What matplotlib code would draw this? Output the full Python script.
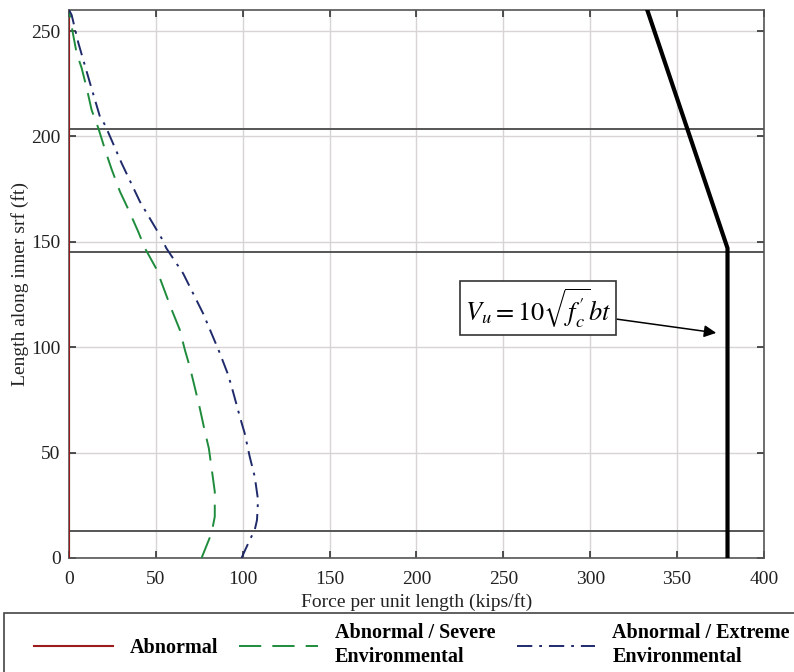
import matplotlib
matplotlib.use("Agg")
import matplotlib.pyplot as plt
from matplotlib.patches import Rectangle

plt.rcParams["font.family"] = ["Liberation Serif", "DejaVu Serif"]
plt.rcParams["mathtext.fontset"] = "stix"
plt.rcParams["lines.scale_dashes"] = False

# Abnormal load: zero along the full height
abn_y = [0, 260]
abn_x = [0, 0]

# Abnormal / Severe Environmental
sev_y = [0, 11.7, 19.6, 31.5, 39.4, 52, 60, 71, 78.9, 90.8, 98.7, 108.2, 118, 137, 147,
         154.9, 165.5, 173.9, 184.5, 192.8, 203.9, 212.6, 222.9, 232.4, 239.5, 250, 257, 260]
sev_x = [76.3, 82.0, 83.9, 83.9, 82.6, 80.5, 78.2, 75.3, 73.0, 69.5, 66.7, 63.8, 59.0, 50.4, 43.7,
         39.8, 34.1, 29.3, 24.5, 21.1, 16.9, 13.0, 10.2, 7.3, 4.4, 2.0, 0.6, 0.0]

# Abnormal / Extreme Environmental
ext_y = [0, 8.5, 13.3, 18, 27.5, 38.6, 48.1, 59.2, 67.1, 78.9, 86.9, 97.2, 106.6, 116, 135, 147,
         151.7, 169.1, 187.3, 205.5, 209.4, 225.3, 244.3, 257.7, 260]
ext_x = [99.3, 104.0, 106.9, 108.2, 108.8, 106.9, 104.0, 101.1, 98.3, 94.4, 91.6, 86.8, 82.0, 77.2, 65.7, 56.0,
         53.3, 40.8, 30.3, 20.7, 17.8, 12.1, 5.4, 1.5, 0.0]

# Shear capacity Vu = 10 sqrt(f'c) b t
cap_y = [0, 147, 262]
cap_x = [379, 379, 332]

# Section boundaries
section_y = [13, 145, 203.5]

x_ticks = [0, 50, 100, 150, 200, 250, 300, 350, 400]
y_ticks = [0, 50, 100, 150, 200, 250]

W, H = 794, 672
fig = plt.figure(figsize=(W / 100, H / 100), dpi=100)
ax = fig.add_axes([69 / W, 1 - 558 / H, (764 - 69) / W, (558 - 10) / H])

ax.grid(True, color="#d8d4d4", linewidth=1.0, zorder=0)
for yv in section_y:
    ax.axhline(yv, color="#555555", linewidth=1.4, zorder=2)

l1, = ax.plot(abn_x, abn_y, color="#9b1c1c", linewidth=1.5, zorder=4)
l2, = ax.plot(sev_x, sev_y, color="#1e8c3c", linewidth=1.4, dashes=(16, 8), zorder=4)
l3, = ax.plot(ext_x, ext_y, color="#1f2a6b", linewidth=1.4, dashes=(11, 5, 2, 5), zorder=4)
ax.plot(cap_x, cap_y, color="black", linewidth=3.0, zorder=5, solid_joinstyle="miter")

ax.set_xlim(0, 400)
ax.set_ylim(0, 260)
ax.set_xticks(x_ticks)
ax.set_yticks(y_ticks)
ax.tick_params(direction="in", length=5, width=1.2, top=True, right=True,
               labelsize=14, colors="#333333", labelcolor="#222222")
ax.tick_params(axis="x", pad=9)
ax.tick_params(axis="y", pad=6)
for s in ax.spines.values():
    s.set_color("#555555")
    s.set_linewidth(1.2)

ax.set_xlabel("Force per unit length (kips/ft)", fontsize=14, color="#222222", labelpad=4)
ax.set_ylabel("Length along inner srf (ft)", fontsize=14, color="#222222", labelpad=2)

ax.annotate(r"$V_u = 10\sqrt{f_c^{\prime}}bt$", xy=(372.5, 106.8), xytext=(270, 118.5),
            fontsize=19, ha="center", va="center", zorder=6,
            bbox=dict(boxstyle="square,pad=0.2", facecolor="white", edgecolor="#333333", linewidth=1.2),
            arrowprops=dict(arrowstyle="-|>", color="black", linewidth=1.1, mutation_scale=18,
                            shrinkA=0, shrinkB=0))

# Legend frame spanning the figure width below the axes
fig.patches.append(Rectangle((4 / W, -0.05), 1.0, 1 - 613 / H + 0.05, transform=fig.transFigure,
                             facecolor="white", edgecolor="#444444", linewidth=1.2, zorder=0))

leg = fig.legend([l1, l2, l3],
                 ["Abnormal", "Abnormal / Severe\nEnvironmental", "Abnormal / Extreme\nEnvironmental"],
                 loc="upper left", bbox_to_anchor=(34 / W, 1 - 623 / H),
                 ncol=3, prop=dict(family="Liberation Serif", weight="bold", size=14.5),
                 handlelength=3.9, handletextpad=0.85, columnspacing=1.05,
                 frameon=False, borderpad=0, borderaxespad=0)
for t in leg.get_texts():
    t.set_linespacing(1.3)

fig.savefig("out.png", dpi=100)
